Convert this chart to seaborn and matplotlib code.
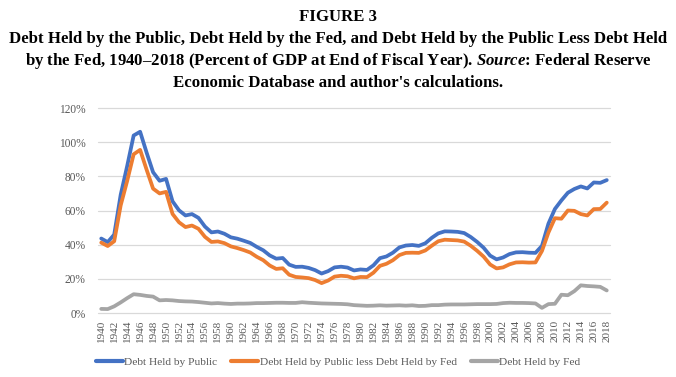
import numpy as np
import pandas as pd
import matplotlib
matplotlib.use("Agg")
import matplotlib.pyplot as plt
from matplotlib.lines import Line2D
import seaborn as sns

years = list(range(1940, 2019))
debt_public = [43.6, 41.5, 45.9, 69.2, 86.0, 103.9, 106.1, 93.9, 82.4, 77.4,
               78.5, 65.4, 60.1, 57.1, 57.9, 55.7, 50.6, 47.2, 47.7, 46.4,
               44.3, 43.5, 42.3, 41.0, 38.7, 36.7, 33.7, 31.8, 32.2, 28.3,
               27.0, 27.1, 26.4, 25.1, 23.1, 24.5, 26.7, 27.1, 26.6, 24.9,
               25.5, 25.2, 27.9, 32.1, 33.1, 35.3, 38.4, 39.5, 39.8, 39.3,
               40.8, 44.0, 46.6, 47.8, 47.7, 47.5, 46.8, 44.5, 41.6, 38.2,
               33.6, 31.4, 32.5, 34.5, 35.5, 35.6, 35.3, 35.2, 39.3, 52.3,
               60.9, 65.9, 70.4, 72.6, 74.1, 72.9, 76.4, 76.2, 77.8]
debt_public_less_fed = [41.2, 39.2, 42.0, 63.0, 77.3, 92.9, 95.5, 83.9, 72.8, 70.0,
                        70.9, 58.0, 53.1, 50.3, 51.2, 49.3, 44.6, 41.6, 41.9, 40.9,
                        39.0, 38.0, 36.8, 35.4, 32.9, 30.9, 27.8, 25.8, 26.2, 22.4,
                        21.1, 20.8, 20.4, 19.3, 17.5, 19.0, 21.3, 21.8, 21.5, 20.3,
                        21.1, 21.0, 23.6, 27.6, 28.8, 30.9, 33.9, 35.2, 35.3, 35.2,
                        36.6, 39.4, 42.0, 42.9, 42.7, 42.5, 41.8, 39.4, 36.4, 33.0,
                        28.4, 26.1, 26.7, 28.5, 29.6, 29.7, 29.5, 29.6, 36.3, 47.1,
                        55.5, 55.2, 60.0, 59.8, 57.9, 57.1, 60.8, 60.9, 64.6]
debt_fed = [2.4, 2.3, 3.9, 6.2, 8.7, 11.0, 10.6, 10.0, 9.6, 7.4,
            7.6, 7.4, 7.0, 6.8, 6.7, 6.4, 6.0, 5.6, 5.8, 5.5,
            5.3, 5.5, 5.5, 5.6, 5.8, 5.8, 5.9, 6.0, 6.0, 5.9,
            5.9, 6.3, 6.0, 5.8, 5.6, 5.5, 5.4, 5.3, 5.1, 4.6,
            4.4, 4.2, 4.3, 4.5, 4.3, 4.4, 4.5, 4.3, 4.5, 4.1,
            4.2, 4.6, 4.6, 4.9, 5.0, 5.0, 5.0, 5.1, 5.2, 5.2,
            5.2, 5.3, 5.8, 6.0, 5.9, 5.9, 5.8, 5.6, 3.0, 5.2,
            5.4, 10.7, 10.4, 12.8, 16.2, 15.8, 15.6, 15.3, 13.2]

series_names = ["Debt Held by Public",
                "Debt Held by Public less Debt Held by Fed",
                "Debt Held by Fed"]
series_colors = ["#4472C4", "#ED7D31", "#A5A5A5"]
ytick_values = [0, 20, 40, 60, 80, 100, 120]
xtick_years = years[::2]

title_lines = [
    "FIGURE 3",
    "Debt Held by the Public, Debt Held by the Fed, and Debt Held by the Public Less Debt Held",
    r"by the Fed, 1940–2018 (Percent of GDP at End of Fiscal Year). $\mathit{Source}$: Federal Reserve",
    "Economic Database and author's calculations.",
]

sns.set_theme(style="white")
plt.rcParams["font.family"] = ["Liberation Serif", "DejaVu Serif"]
plt.rcParams["mathtext.fontset"] = "custom"
plt.rcParams["mathtext.rm"] = "Liberation Serif:bold"
plt.rcParams["mathtext.it"] = "Liberation Serif:italic:bold"
plt.rcParams["mathtext.bf"] = "Liberation Serif:bold"

df = pd.concat([
    pd.DataFrame({"year": years, "value": vals, "series": name})
    for name, vals in zip(series_names,
                          [debt_public, debt_public_less_fed, debt_fed])
])
palette = dict(zip(series_names, series_colors))

W, H = 676, 377
fig = plt.figure(figsize=(W / 100, H / 100), dpi=100)
ax = fig.add_axes([98 / W, 64 / H, 512 / W, 205 / H])

sns.lineplot(data=df, x="year", y="value", hue="series", palette=palette,
             hue_order=series_names, linewidth=2.7, ax=ax, legend=False,
             sort=False)
for ln in ax.get_lines():
    ln.set_solid_joinstyle("round")
    ln.set_solid_capstyle("round")

ax.set_xlim(1939.5, 2018.5)
ax.set_ylim(0, 120)
ax.set_yticks(ytick_values)
ax.set_yticklabels([f"{v}%" for v in ytick_values])
ax.set_xticks(xtick_years)
ax.set_xticklabels([str(y) for y in xtick_years], rotation=90)
ax.set_xlabel("")
ax.set_ylabel("")
ax.grid(axis="y", color="#D9D9D9", linewidth=0.9)
ax.grid(axis="x", visible=False)
for gl in ax.get_ygridlines():
    gl.set_clip_on(False)
ax.set_axisbelow(True)
for s in ax.spines.values():
    s.set_visible(False)
ax.tick_params(axis="y", length=0, pad=9, labelsize=8.3, labelcolor="#595959")
ax.tick_params(axis="x", length=0, pad=5, labelsize=8.0, labelcolor="#595959")

handles = [Line2D([0], [0], color=c, lw=3) for c in series_colors]
leg = fig.legend(handles, series_names, loc="center", bbox_to_anchor=(0.5, 15 / H),
                 ncol=3, frameon=False, handlelength=2.4, handletextpad=0.12,
                 columnspacing=1.2, fontsize=8.2)
for t in leg.get_texts():
    t.set_color("#595959")

baselines = [21, 43, 65, 87]
for line, yb in zip(title_lines, baselines):
    fig.text(0.5, 1 - yb / H, line, ha="center", va="baseline",
             fontsize=12.1, fontweight="bold", color="black")

fig.savefig("out.png", dpi=100)
